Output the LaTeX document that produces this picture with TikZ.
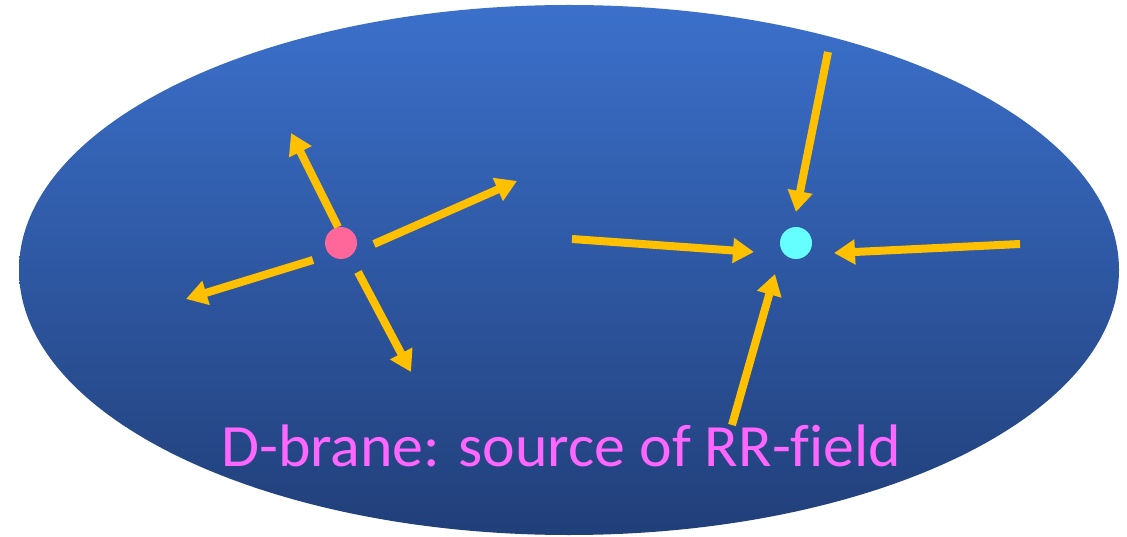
\documentclass[tikz,border=0pt]{standalone}
\usepackage{fontspec}
\setmainfont{Carlito}[Ligatures=NoCommon]
\usetikzlibrary{arrows.meta}
\definecolor{topblue}{HTML}{3B70CB}
\definecolor{botblue}{HTML}{213F79}
\definecolor{arrowgold}{HTML}{FFC000}
\definecolor{dotpink}{HTML}{FF6699}
\definecolor{dotcyan}{HTML}{66FFFF}
\definecolor{labelpink}{HTML}{FF66FF}
\tikzset{
  dotnode/.style={circle, minimum size=32pt, inner sep=0pt},
  field/.style={draw=arrowgold, line width=8pt, -{Triangle[length=21pt,width=24pt]}},
  lbl/.style={text=labelpink, font=\fontsize{60}{66}\selectfont, inner sep=0pt, anchor=base, xscale=1.03}
}
\begin{document}
\begin{tikzpicture}[x=1pt,y=-1pt]
\useasboundingbox (0,0) rectangle (1127,537);
\shade[top color=topblue, bottom color=botblue] (569,270) ellipse [x radius=550, y radius=265];
\node[dotnode, fill=dotpink] (src) at (341,243) {};
\node[dotnode, fill=dotcyan] (snk) at (796,243) {};
% outgoing from source
\coordinate (a1s) at (338,227); \coordinate (a1e) at (291,133);
\coordinate (a2s) at (374,244); \coordinate (a2e) at (517,181);
\coordinate (a3s) at (313,260); \coordinate (a3e) at (186,299);
\coordinate (a4s) at (358,272); \coordinate (a4e) at (411,372);
\draw[field] (a1s) -- (a1e);
\draw[field] (a2s) -- (a2e);
\draw[field] (a3s) -- (a3e);
\draw[field] (a4s) -- (a4e);
% incoming to sink
\coordinate (b1s) at (828,52);  \coordinate (b1e) at (796,212);
\coordinate (b2s) at (572,239); \coordinate (b2e) at (754,252);
\coordinate (b3s) at (1020,244); \coordinate (b3e) at (834,253);
\coordinate (b4s) at (732,425); \coordinate (b4e) at (775,274);
\draw[field] (b1s) -- (b1e);
\draw[field] (b2s) -- (b2e);
\draw[field] (b3s) -- (b3e);
\draw[field] (b4s) -- (b4e);
\node[lbl] (caption) at (561,466) {D-brane: source of RR-field};
\end{tikzpicture}
\end{document}
